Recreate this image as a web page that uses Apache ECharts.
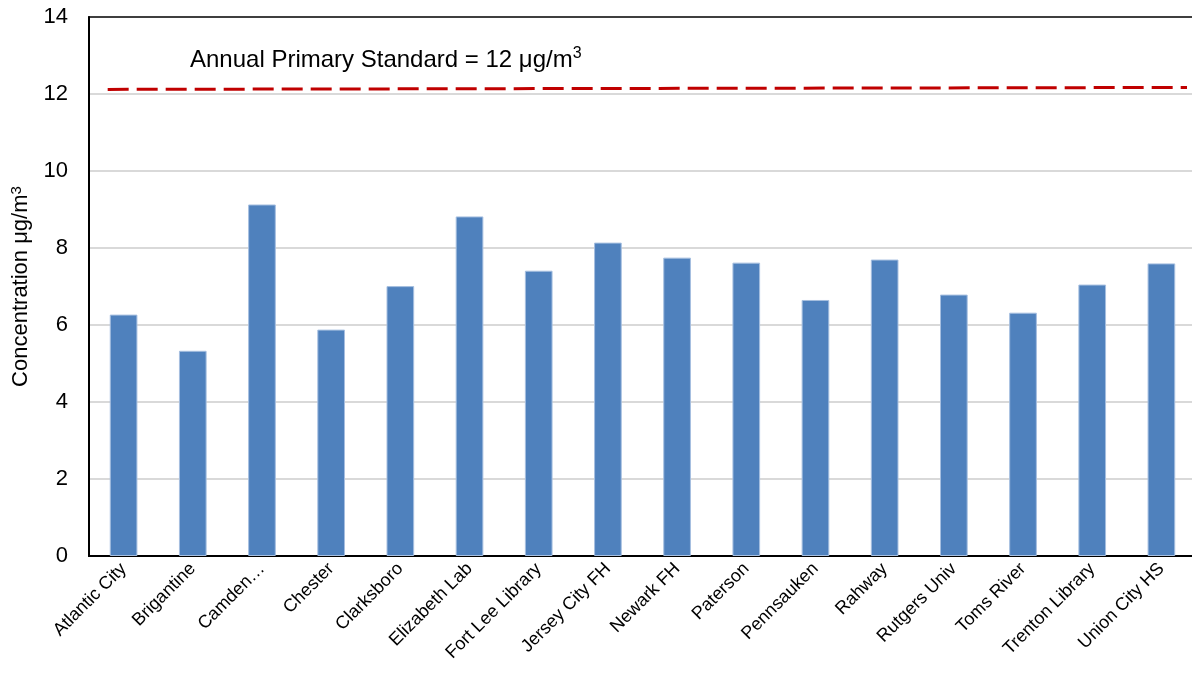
<!DOCTYPE html>
<html>
<head>
<meta charset="utf-8">
<script src="https://cdn.jsdelivr.net/npm/echarts@6/dist/echarts.min.js"></script>
<style>
  html, body { margin: 0; padding: 0; background: #fff; }
  #chart { width: 1192px; height: 675px; }
</style>
</head>
<body>
<div id="chart"></div>
<script>
// site names along the x axis
const sites = [
  'Atlantic City', 'Brigantine', 'Camden\u2026', 'Chester', 'Clarksboro',
  'Elizabeth Lab', 'Fort Lee Library', 'Jersey City FH', 'Newark FH', 'Paterson',
  'Pennsauken', 'Rahway', 'Rutgers Univ', 'Toms River', 'Trenton Library', 'Union City HS'
];
// annual mean PM2.5 concentration, ug/m3
const concentration = [
  6.27, 5.33, 9.13, 5.88, 7.01, 8.82, 7.41, 8.14,
  7.75, 7.62, 6.65, 7.70, 6.79, 6.32, 7.05, 7.60
];
// standard line, drawn on a hidden value axis spanning the categories
const standardLine = [[0.27, 12.12], [15.87, 12.17]];
const yTicks = [0, 2, 4, 6, 8, 10, 12, 14];

const font = 'Liberation Sans, Arial, sans-serif';
const chart = echarts.init(document.getElementById('chart'));

chart.setOption({
  animation: false,
  textStyle: { fontFamily: font },
  grid: {
    left: 89, top: 17, width: 1107, bottom: 119,
    outerBoundsMode: 'none', containLabel: false,
    show: true, borderColor: '#000', borderWidth: 1.5, backgroundColor: 'transparent'
  },
  xAxis: [{
    type: 'category',
    data: sites,
    axisLine: { lineStyle: { color: '#000', width: 2 } },
    axisTick: { show: false },
    axisLabel: {
      interval: 0, rotate: 45, fontSize: 18, color: '#000',
      fontFamily: font, margin: 10
    }
  }, {
    type: 'value', min: 0, max: 16, show: false
  }],
  yAxis: {
    type: 'value',
    min: yTicks[0], max: yTicks[yTicks.length - 1], interval: 2,
    name: 'Concentration \u03bcg/m{s|3}',
    nameLocation: 'middle', nameGap: 56,
    nameTextStyle: {
      fontSize: 22, color: '#000', fontFamily: font,
      rich: { s: { fontSize: 15, verticalAlign: 'top', padding: [0, 0, 9, 0], color: '#000', fontFamily: font } }
    },
    axisLine: { show: true, lineStyle: { color: '#000', width: 2 } },
    axisTick: { show: false },
    axisLabel: { fontSize: 22, color: '#000', fontFamily: font, margin: 21 },
    splitLine: { showMaxLine: false, showMinLine: false, lineStyle: { color: '#d9d9d9', width: 2 } }
  },
  series: [{
    type: 'bar',
    data: concentration,
    barWidth: '40%',
    itemStyle: { color: '#4f81bd', borderColor: '#a6bfe0', borderWidth: 1 }
  }, {
    type: 'line',
    xAxisIndex: 1,
    data: standardLine,
    symbol: 'none',
    lineStyle: { color: '#c00000', width: 3, type: [21, 8] },
    z: 5
  }],
  graphic: [{
    type: 'text',
    left: 190, top: 46,
    style: {
      text: 'Annual Primary Standard = 12 \u03bcg/m{s|3}',
      fontSize: 24, fill: '#000', fontFamily: font,
      rich: { s: { fontSize: 16, verticalAlign: 'top', padding: [0, 0, 13, 0], fill: '#000', fontFamily: font } }
    }
  }]
});
</script>
</body>
</html>
